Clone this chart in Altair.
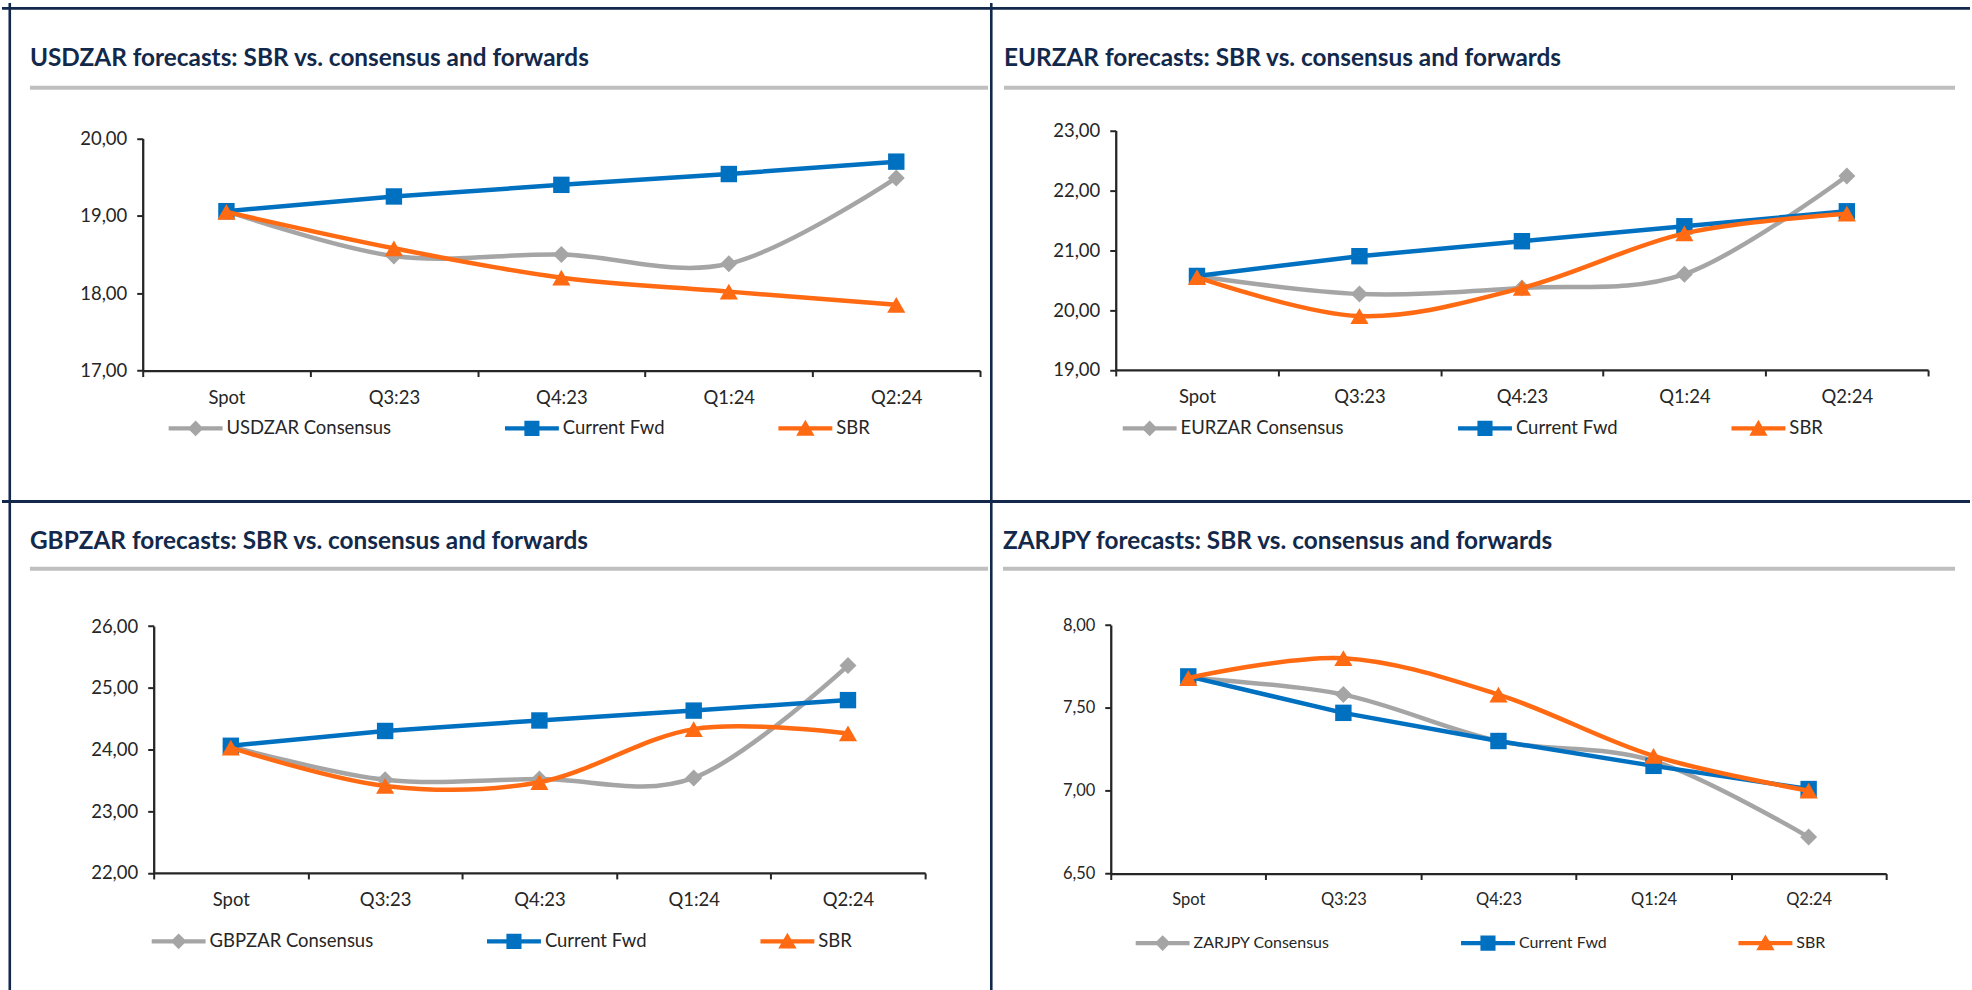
import altair as alt
import pandas as pd

# ---- data -------------------------------------------------------------
categories = ["Spot", "Q3:23", "Q4:23", "Q1:24", "Q2:24"]

usdzar_consensus = [19.06, 18.48, 18.50, 18.38, 19.49]
usdzar_fwd = [19.06, 19.25, 19.40, 19.54, 19.70]
usdzar_sbr = [19.05, 18.58, 18.20, 18.02, 17.85]

eurzar_consensus = [20.57, 20.27, 20.37, 20.60, 22.24]
eurzar_fwd = [20.57, 20.90, 21.15, 21.40, 21.65]
eurzar_sbr = [20.55, 19.90, 20.37, 21.28, 21.61]

gbpzar_consensus = [24.05, 23.51, 23.52, 23.54, 25.36]
gbpzar_fwd = [24.06, 24.30, 24.47, 24.63, 24.80]
gbpzar_sbr = [24.03, 23.41, 23.47, 24.33, 24.26]

zarjpy_consensus = [7.68, 7.58, 7.30, 7.18, 6.72]
zarjpy_fwd = [7.69, 7.47, 7.30, 7.15, 7.01]
zarjpy_sbr = [7.68, 7.80, 7.58, 7.21, 7.00]

usdzar_ticks = [17, 18, 19, 20]
eurzar_ticks = [19, 20, 21, 22, 23]
gbpzar_ticks = [22, 23, 24, 25, 26]
zarjpy_ticks = [6.5, 7.0, 7.5, 8.0]

# ---- styling ----------------------------------------------------------
NAVY = "#13294B"
RULE_GREY = "#BFBFBF"
INK = "#262626"
GREY = "#A5A5A5"
BLUE = "#0070C0"
ORANGE = "#FF6A13"
FONT = "Lato"

# legend glyphs: a short line with the series marker on it (unit square -1..1)
LEG_DIAMOND = "M-1,-0.08H1V0.08H-1Z M0,-0.29L0.29,0L0,0.29L-0.29,0Z"
LEG_SQUARE = "M-1,-0.08H1V0.08H-1Z M-0.28,-0.28H0.28V0.28H-0.28Z"
LEG_TRIANGLE = "M-1,-0.08H1V0.08H-1Z M0,-0.32L0.34,0.27H-0.34Z"

one_row = pd.DataFrame({"k": [0]})


def panel(pair, cons, fwd, sbr, ticks, W, H, xr, yr, title_x, title_y,
          rule_y, rule_x2, leg_x, leg_y, leg_gap, label_size, leg_size,
          left_border=None, top_border=None):
    names = [f"{pair} Consensus", "Current Fwd", "SBR"]
    series = [(names[0], cons, GREY, "diamond", "cardinal", 290),
              (names[1], fwd, BLUE, "square", "linear", 270),
              (names[2], sbr, ORANGE, "triangle-up", "cardinal", 330)]
    rows = []
    for name, vals, *_ in series:
        for c, v in zip(categories, vals):
            rows.append({"cat": c, "series": name, "value": v})
    df = pd.DataFrame(rows)

    xenc = alt.X(
        "cat:N", sort=categories, title=None,
        scale=alt.Scale(type="band", domain=categories, range=xr,
                        paddingInner=0, paddingOuter=0),
        axis=alt.Axis(orient="bottom", offset=yr[0] - H, labelAngle=0,
                      tickBand="extent", tickSize=6, tickWidth=2,
                      tickColor=INK, domainColor=INK, domainWidth=2.3,
                      labelFont=FONT, labelFontSize=label_size,
                      labelColor=INK, labelPadding=12, grid=False))
    yenc = alt.Y(
        "value:Q", title=None,
        scale=alt.Scale(domain=[ticks[0], ticks[-1]], range=yr,
                        nice=False, zero=False),
        axis=alt.Axis(orient="left", offset=-xr[0], values=ticks,
                      labelExpr="replace(format(datum.value, '.2f'), '.', ',')",
                      tickSize=6, tickWidth=2, tickColor=INK,
                      domainColor=INK, domainWidth=2.3, labelFont=FONT,
                      labelFontSize=label_size, labelColor=INK,
                      labelPadding=10, grid=False))

    layers = []
    if top_border is not None:
        layers.append(alt.Chart(one_row).mark_rule(color=NAVY, strokeWidth=2.8).encode(
            x=alt.value(0), x2=alt.value(W), y=alt.value(top_border)))
    if left_border is not None:
        layers.append(alt.Chart(one_row).mark_rule(color=NAVY, strokeWidth=2.6).encode(
            x=alt.value(left_border), y=alt.value(0), y2=alt.value(H)))

    layers.append(alt.Chart(one_row).mark_text(
        text=f"{pair} forecasts: SBR vs. consensus and forwards",
        align="left", baseline="alphabetic", font=FONT, fontSize=24.4,
        fontWeight="bold", color=NAVY).encode(
        x=alt.value(title_x), y=alt.value(title_y)))
    layers.append(alt.Chart(one_row).mark_rule(color=RULE_GREY, strokeWidth=4).encode(
        x=alt.value(title_x), x2=alt.value(rule_x2), y=alt.value(rule_y)))

    for name, _, color, shape, interp, msize in series:
        base = alt.Chart(df).transform_filter(alt.datum.series == name)
        layers.append(base.mark_line(color=color, strokeWidth=4.5,
                                     interpolate=interp).encode(x=xenc, y=yenc))
        layers.append(base.mark_point(color=color, filled=True, opacity=1,
                                      shape=shape, size=msize
                                      ).encode(x=xenc, y=yenc))

    legend = alt.Legend(orient="none", legendX=leg_x, legendY=leg_y,
                        direction="horizontal", title=None,
                        symbolSize=2916, symbolStrokeWidth=0, symbolOpacity=1,
                        labelFont=FONT, labelFontSize=leg_size, labelLimit=500,
                        labelColor=INK, labelOffset=4, columnPadding=leg_gap,
                        padding=0)
    legend_df = pd.DataFrame({"series": names})
    layers.append(alt.Chart(legend_df).transform_filter("false").mark_point(
        filled=True, opacity=1).encode(
        color=alt.Color("series:N", legend=legend,
                        scale=alt.Scale(domain=names, range=[GREY, BLUE, ORANGE])),
        shape=alt.Shape("series:N", legend=legend,
                        scale=alt.Scale(domain=names,
                                        range=[LEG_DIAMOND, LEG_SQUARE, LEG_TRIANGLE]))))

    return alt.layer(*layers).properties(width=W, height=H)


p1 = panel("USDZAR", usdzar_consensus, usdzar_fwd, usdzar_sbr, usdzar_ticks,
           991, 499, [141, 980], [368.3, 135.7], 28, 63, 85, 988,
           167, 399, 114, 18.5, 18.5, left_border=7.8, top_border=5.3)
p2 = panel("EURZAR", eurzar_consensus, eurzar_fwd, eurzar_sbr, eurzar_ticks,
           981, 499, [125, 939], [367.7, 127.7], 13, 63, 85, 966,
           132, 399, 114, 18.5, 18.5, left_border=0.3, top_border=5.3)
p3 = panel("GBPZAR", gbpzar_consensus, gbpzar_fwd, gbpzar_sbr, gbpzar_ticks,
           991, 491, [152, 925], [372.7, 125.3], 28, 48, 68, 988,
           150, 414, 114, 18.5, 18.5, left_border=7.8, top_border=0.5)
p4 = panel("ZARJPY", zarjpy_consensus, zarjpy_fwd, zarjpy_sbr, zarjpy_ticks,
           981, 491, [120, 897], [373.3, 124.3], 12, 48, 68, 966,
           145, 416, 131, 16.5, 16, left_border=0.3, top_border=0.5)

chart = alt.concat(p1, p2, p3, p4, columns=2, spacing=0, bounds="flush").resolve_scale(
    x="independent", y="independent", color="independent", shape="independent"
).resolve_legend(color="independent", shape="independent").properties(
    padding=0, background="white"
).configure_view(stroke=None)

chart.save("out.html", embed_options={"renderer": "svg", "actions": False})
